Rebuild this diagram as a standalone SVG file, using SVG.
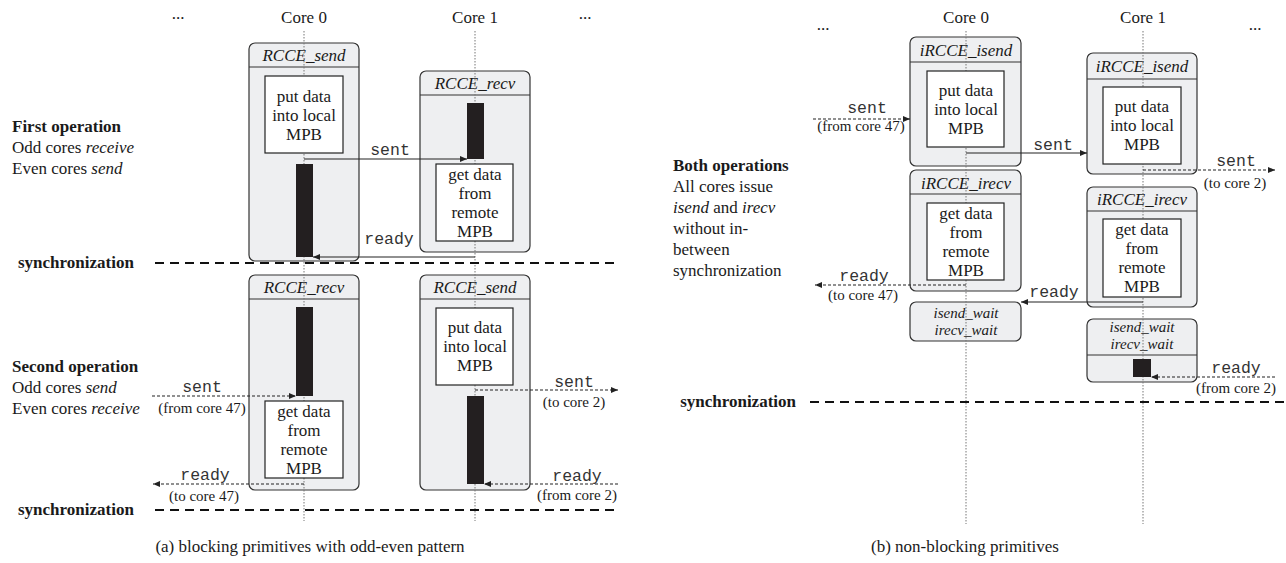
<svg xmlns="http://www.w3.org/2000/svg" width="1286" height="563" viewBox="0 0 1286 563">
<style>
text{font-family:"Liberation Serif","Times New Roman",serif;font-size:17px;fill:#1a1a1a}
.c{text-anchor:middle}
.b{font-weight:bold}
.i{font-style:italic}
.m{font-family:"Liberation Mono","Courier New",monospace;font-size:16.5px;fill:#333}
.s{font-size:15px}
.w{font-size:15px}
.cap{font-size:17px}
.frame{fill:#eeeff1;stroke:#333;stroke-width:1.2}
.hdr{stroke:#333;stroke-width:1.2}
.inner{fill:#fff;stroke:#222;stroke-width:1.2}
.bar{fill:#231f20}
.life{stroke:#777;stroke-width:1;stroke-dasharray:1.5 1.5;fill:none}
.sync{stroke:#111;stroke-width:2.2;stroke-dasharray:9 6;fill:none}
.solid{stroke:#222;stroke-width:1.1;fill:none;marker-end:url(#ah)}
.dash{stroke:#222;stroke-width:1.1;stroke-dasharray:3 2;fill:none;marker-end:url(#ah)}
</style>
<defs>
<marker id="ah" markerUnits="userSpaceOnUse" markerWidth="8" markerHeight="7" refX="7" refY="3.5" orient="auto">
<path d="M0,0.5 L7,3.5 L0,6.5 z" fill="#222"/>
</marker>
</defs>
<rect width="1286" height="563" fill="#fff"/>

<!-- ===== Left panel (a) ===== -->
<g id="a-headers">
<text x="178" y="19" class="c">...</text>
<text x="304" y="23" class="c">Core 0</text>
<text x="475" y="23" class="c">Core 1</text>
<text x="585" y="19" class="c">...</text>
</g>
<g id="a-labels">
<text x="12" y="132" class="b">First operation</text>
<text x="12" y="153">Odd cores <tspan class="i">receive</tspan></text>
<text x="12" y="174">Even cores <tspan class="i">send</tspan></text>
<text x="12" y="372" class="b">Second operation</text>
<text x="12" y="393">Odd cores <tspan class="i">send</tspan></text>
<text x="12" y="414">Even cores <tspan class="i">receive</tspan></text>
</g>

<!-- frames -->
<g id="a-core0-send">
<rect class="frame" x="249" y="43" width="110" height="218" rx="6"/>
<line class="hdr" x1="249" y1="67" x2="359" y2="67"/>
<text x="304" y="61" class="c i">RCCE_send</text>
</g>
<g id="a-core1-recv">
<rect class="frame" x="420" y="71" width="110" height="181" rx="6"/>
<line class="hdr" x1="420" y1="95" x2="530" y2="95"/>
<text x="475" y="89" class="c i">RCCE_recv</text>
</g>
<g id="a-core0-recv">
<rect class="frame" x="249" y="275" width="110" height="215" rx="6"/>
<line class="hdr" x1="249" y1="299" x2="359" y2="299"/>
<text x="304" y="293" class="c i">RCCE_recv</text>
</g>
<g id="a-core1-send">
<rect class="frame" x="420" y="275" width="110" height="215" rx="6"/>
<line class="hdr" x1="420" y1="299" x2="530" y2="299"/>
<text x="475" y="293" class="c i">RCCE_send</text>
</g>

<!-- ===== Right panel (b) frames ===== -->
<g id="b-headers">
<text x="823" y="30" class="c">...</text>
<text x="966" y="23" class="c">Core 0</text>
<text x="1143" y="23" class="c">Core 1</text>
<text x="1255" y="30" class="c">...</text>
</g>
<g id="b-labels">
<text x="673" y="171" class="b">Both operations</text>
<text x="673" y="192">All cores issue</text>
<text x="673" y="213"><tspan class="i">isend</tspan> and <tspan class="i">irecv</tspan></text>
<text x="673" y="234">without in-</text>
<text x="673" y="255">between</text>
<text x="673" y="276">synchronization</text>
</g>
<g id="b-core0-isend">
<rect class="frame" x="910" y="37" width="111" height="129" rx="6"/>
<line class="hdr" x1="910" y1="62" x2="1021" y2="62"/>
<text x="966" y="56" class="c i">iRCCE_isend</text>
</g>
<g id="b-core0-irecv">
<rect class="frame" x="910" y="170" width="111" height="121" rx="6"/>
<line class="hdr" x1="910" y1="194" x2="1021" y2="194"/>
<text x="966" y="189" class="c i">iRCCE_irecv</text>
</g>
<g id="b-core0-wait">
<rect class="frame" x="910" y="302" width="111" height="39" rx="6"/>
<text x="966" y="318" class="c i w">isend_wait</text>
<text x="966" y="335" class="c i w">irecv_wait</text>
</g>
<g id="b-core1-isend">
<rect class="frame" x="1087" y="53" width="110" height="121" rx="6"/>
<line class="hdr" x1="1087" y1="79" x2="1197" y2="79"/>
<text x="1142" y="72" class="c i">iRCCE_isend</text>
</g>
<g id="b-core1-irecv">
<rect class="frame" x="1087" y="187" width="110" height="120" rx="6"/>
<line class="hdr" x1="1087" y1="211" x2="1197" y2="211"/>
<text x="1142" y="205" class="c i">iRCCE_irecv</text>
</g>
<g id="b-core1-wait">
<rect class="frame" x="1087" y="319" width="110" height="63" rx="6"/>
<line class="hdr" x1="1087" y1="355" x2="1197" y2="355"/>
<text x="1142" y="332" class="c i w">isend_wait</text>
<text x="1142" y="349" class="c i w">irecv_wait</text>
</g>

<!-- lifelines -->
<g id="lifelines">
<line class="life" x1="304" y1="31" x2="304" y2="521"/>
<line class="life" x1="475" y1="31" x2="475" y2="521"/>
<line class="life" x1="966" y1="31" x2="966" y2="524"/>
<line class="life" x1="1143" y1="31" x2="1143" y2="524"/>
</g>

<!-- inner activities -->
<g id="a-put0">
<rect class="inner" x="265" y="76" width="78" height="77"/>
<text x="304" y="102" class="c">put data</text>
<text x="304" y="121" class="c">into local</text>
<text x="304" y="140" class="c">MPB</text>
</g>
<rect id="a-bar0" class="bar" x="296" y="164" width="17" height="93"/>
<rect id="a-bar1" class="bar" x="467" y="103" width="17" height="56"/>
<g id="a-get1">
<rect class="inner" x="436" y="164" width="77" height="77"/>
<text x="475" y="180" class="c">get data</text>
<text x="475" y="199" class="c">from</text>
<text x="475" y="218" class="c">remote</text>
<text x="475" y="237" class="c">MPB</text>
</g>
<rect id="a-bar2" class="bar" x="296" y="307" width="17" height="89"/>
<g id="a-get0">
<rect class="inner" x="265" y="401" width="78" height="77"/>
<text x="304" y="417" class="c">get data</text>
<text x="304" y="436" class="c">from</text>
<text x="304" y="455" class="c">remote</text>
<text x="304" y="474" class="c">MPB</text>
</g>
<g id="a-put1">
<rect class="inner" x="436" y="308" width="77" height="77"/>
<text x="475" y="333" class="c">put data</text>
<text x="475" y="352" class="c">into local</text>
<text x="475" y="371" class="c">MPB</text>
</g>
<rect id="a-bar3" class="bar" x="467" y="396" width="17" height="88"/>

<g id="b-put0">
<rect class="inner" x="927" y="71" width="77" height="76"/>
<text x="966" y="96" class="c">put data</text>
<text x="966" y="115" class="c">into local</text>
<text x="966" y="134" class="c">MPB</text>
</g>
<g id="b-get0">
<rect class="inner" x="927" y="203" width="77" height="77"/>
<text x="966" y="219" class="c">get data</text>
<text x="966" y="238" class="c">from</text>
<text x="966" y="257" class="c">remote</text>
<text x="966" y="276" class="c">MPB</text>
</g>
<g id="b-put1">
<rect class="inner" x="1103" y="87" width="78" height="77"/>
<text x="1142" y="112" class="c">put data</text>
<text x="1142" y="131" class="c">into local</text>
<text x="1142" y="150" class="c">MPB</text>
</g>
<g id="b-get1">
<rect class="inner" x="1103" y="219" width="78" height="78"/>
<text x="1142" y="235" class="c">get data</text>
<text x="1142" y="254" class="c">from</text>
<text x="1142" y="273" class="c">remote</text>
<text x="1142" y="292" class="c">MPB</text>
</g>
<rect id="b-bar1" class="bar" x="1133" y="359" width="18" height="18"/>

<!-- synchronization -->
<g id="sync">
<text x="18" y="268" class="b">synchronization</text>
<line class="sync" x1="155" y1="263" x2="620" y2="263"/>
<text x="18" y="515" class="b">synchronization</text>
<line class="sync" x1="155" y1="510" x2="620" y2="510"/>
<text x="796" y="407" class="b" text-anchor="end">synchronization</text>
<line class="sync" x1="810" y1="402" x2="1286" y2="402"/>
</g>

<!-- connectors -->
<g id="connectors">
<line class="solid" x1="304" y1="159" x2="467" y2="159"/>
<text x="390" y="155" class="c m">sent</text>
<line class="solid" x1="475" y1="257" x2="313" y2="257"/>
<text x="389" y="244" class="c m">ready</text>

<line class="dash" x1="152" y1="396" x2="296" y2="396"/>
<text x="202" y="392" class="c m">sent</text>
<text x="202" y="413" class="c s">(from core 47)</text>
<line class="dash" x1="304" y1="484" x2="153" y2="484"/>
<text x="205" y="480" class="c m">ready</text>
<text x="204" y="501" class="c s">(to core 47)</text>

<line class="dash" x1="475" y1="390" x2="618" y2="390"/>
<text x="574" y="387" class="c m">sent</text>
<text x="574" y="407" class="c s">(to core 2)</text>
<line class="dash" x1="618" y1="484" x2="484" y2="484"/>
<text x="577" y="481" class="c m">ready</text>
<text x="577" y="500" class="c s">(from core 2)</text>

<line class="dash" x1="813" y1="119" x2="910" y2="119"/>
<text x="867" y="113" class="c m">sent</text>
<text x="861" y="131" class="c s">(from core 47)</text>
<line class="solid" x1="966" y1="153" x2="1087" y2="153"/>
<text x="1053" y="150" class="c m">sent</text>
<line class="dash" x1="1143" y1="170" x2="1275" y2="170"/>
<text x="1236" y="166" class="c m">sent</text>
<text x="1235" y="188" class="c s">(to core 2)</text>
<line class="dash" x1="966" y1="285" x2="815" y2="285"/>
<text x="864" y="281" class="c m">ready</text>
<text x="863" y="300" class="c s">(to core 47)</text>
<line class="solid" x1="1143" y1="302" x2="1021" y2="302"/>
<text x="1054" y="297" class="c m">ready</text>
<line class="dash" x1="1275" y1="377" x2="1151" y2="377"/>
<text x="1236" y="373" class="c m">ready</text>
<text x="1236" y="393" class="c s">(from core 2)</text>
</g>

<g id="captions">
<text x="310" y="552" class="c cap">(a) blocking primitives with odd-even pattern</text>
<text x="965" y="552" class="c cap">(b) non-blocking primitives</text>
</g>
</svg>
